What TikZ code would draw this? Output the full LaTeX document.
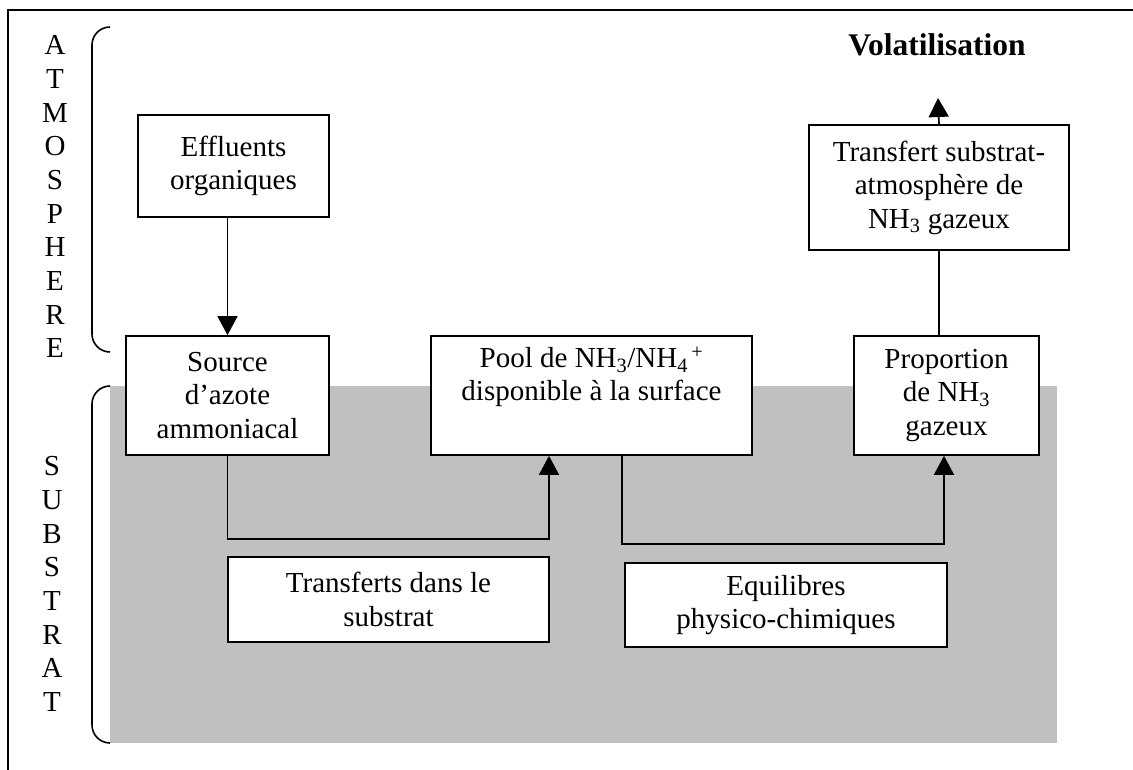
\documentclass[tikz,border=0pt]{standalone}
\usepackage{fontspec}
\setmainfont{Liberation Serif}
\usetikzlibrary{arrows.meta,calc}
\tikzset{
  box/.style={draw,line width=1.7pt,fill=white,align=center,inner sep=0pt,
    font=\fontsize{29}{33.5}\selectfont},
  conn/.style={line width=1.7pt},
  arr/.style={conn,-{Triangle[length=19pt,width=20pt]}},
  brace/.style={line width=1.6pt,rounded corners=18pt},
  side/.style={align=center,font=\fontsize{29}{33.7}\selectfont},
}
\begin{document}
\begin{tikzpicture}[x=1pt,y=-1pt]
\useasboundingbox (0,0) rectangle (1133,770);
% frame
\draw[line width=1.6pt] (8,770) -- (8,10) -- (1133,10);
% substrate area
\fill[fill={rgb,255:red,192;green,192;blue,192}] (110,386) rectangle (1057,743);
% braces
\draw[brace] (110,27) -- (92,27) -- (92,352) -- (110,352);
\draw[brace] (110,386) -- (92,386) -- (92,743) -- (110,743);
% side labels
\node[side,anchor=north] (atm) at (55,32) {A\\T\\M\\O\\S\\P\\H\\E\\R\\E};
\node[side,anchor=north] (sub) at (52,453) {S\\U\\B\\S\\T\\R\\A\\T};
% title
\node[font=\fontsize{31.5}{36}\selectfont\bfseries] (vol) at (937,45) {Volatilisation};
% boxes
\node[box,minimum width=191pt,minimum height=102pt] (eff) at (233.5,166) {Effluents\\organiques};
\node[box,minimum width=203pt,minimum height=119pt] (src) at (227.5,395.5) {Source\\d’azote\\ammoniacal};
\node[box,minimum width=321pt,minimum height=119pt] (pool) at (591.5,395.5) {Pool de NH\textsubscript{3}/NH\textsubscript{4}\textsuperscript{\,+}\\disponible à la surface\\\strut};
\node[box,minimum width=185pt,minimum height=119pt] (prop) at (946.5,395.5) {Proportion\\de NH\textsubscript{3}\\gazeux};
\node[box,minimum width=260pt,minimum height=125pt] (trans) at (939,187.5) {Transfert substrat-\\atmosphère de\\NH\textsubscript{3} gazeux};
\node[box,minimum width=321pt,minimum height=85pt] (tds) at (388.5,599.5) {Transferts dans le\\substrat};
\node[box,minimum width=322pt,minimum height=84pt] (equ) at (786,605) {Equilibres\\physico-chimiques};
% connectors
\coordinate (c1) at (549,539);
\coordinate (c2) at (622,544);
\coordinate (c3) at (944,544);
\coordinate (top) at (938,98);
\draw[arr] (src.north |- eff.south) -- (src.north);
\draw[arr] (src.south) |- (c1) -- (c1 |- pool.south);
\draw[arr] (c2 |- pool.south) -- (c2) -- (c3) -- (c3 |- prop.south);
\draw[conn] (trans.south) -- (trans.south |- prop.north);
\draw[arr] (trans.north) -- (top);
\end{tikzpicture}
\end{document}
